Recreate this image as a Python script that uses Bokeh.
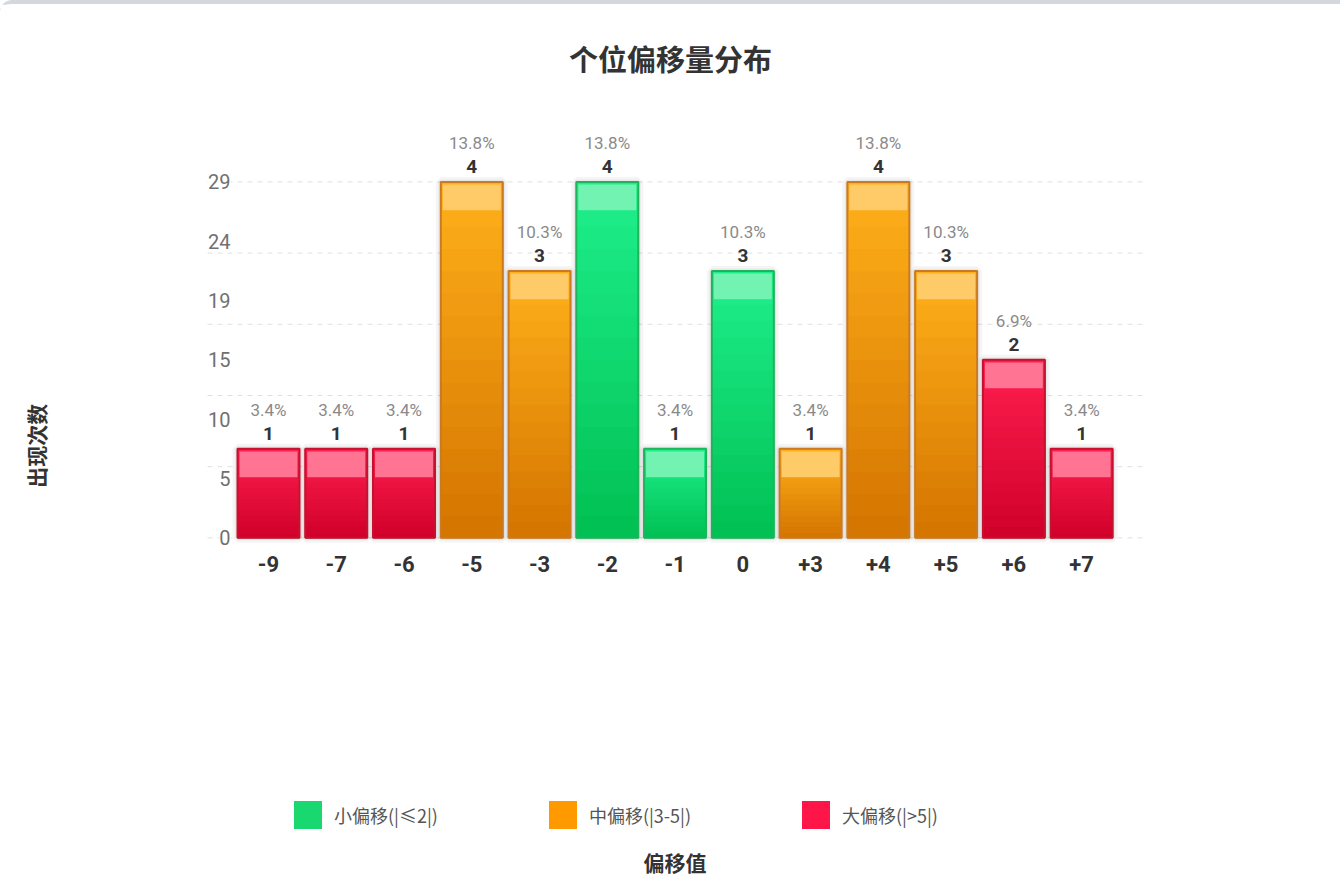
import numpy as np
from bokeh.core.properties import value
from bokeh.embed import file_html
from bokeh.models import (ColumnDataSource, Range1d, FixedTicker, LinearAxis,
                          Legend, LegendItem)
from bokeh.plotting import figure
from bokeh.resources import INLINE

# data
offsets = ["-9", "-7", "-6", "-5", "-3", "-2", "-1", "0", "+3", "+4", "+5", "+6", "+7"]
counts = [1, 1, 1, 4, 3, 4, 1, 3, 1, 4, 3, 2, 1]
y_tick_labels = ["0", "5", "10", "15", "19", "24", "29"]
group_names = ["小偏移(|≤2|)", "中偏移(|3-5|)", "大偏移(|>5|)"]

total = sum(counts)
peak = max(counts)
idx = list(range(len(offsets)))

# per group: gradient top, gradient bottom, highlight, border, legend swatch
styles = {
    0: ("#1ff08c", "#00bf52", "#72f3b2", "#1fb35c", "#19d870"),
    1: ("#ffb01a", "#d47400", "#ffcb68", "#c97a22", "#ff9900"),
    2: ("#ff1f50", "#cf0029", "#ff7393", "#c4122f", "#ff1648"),
}


def group_of(name):
    d = abs(int(name))
    if d <= 2:
        return 0
    if d <= 5:
        return 1
    return 2


def mix(c1, c2, t):
    a = np.array([int(c1[i:i + 2], 16) for i in (1, 3, 5)])
    b = np.array([int(c2[i:i + 2], 16) for i in (1, 3, 5)])
    r = np.round(a + (b - a) * t).astype(int)
    return "#%02x%02x%02x" % tuple(r)


BAR_W = 0.915
SLICES = 16
cjk = "Noto Sans CJK SC"

# gradient slices for each bar
sx, sb, st, sc = [], [], [], []
hb, ht, hc, bcol = [], [], [], []
for i, name, c in zip(idx, offsets, counts):
    top_c, bot_c, hi_c, edge_c, _ = styles[group_of(name)]
    for k in range(SLICES):
        sx.append(i)
        sb.append(c * k / SLICES)
        st.append(c * (k + 1) / SLICES)
        sc.append(mix(bot_c, top_c, (k + 0.5) / SLICES))
    hb.append(c - 0.32)
    ht.append(c - 0.03)
    hc.append(hi_c)
    bcol.append(edge_c)

slices = ColumnDataSource(dict(x=sx, bottom=sb, top=st, color=sc))
bars = ColumnDataSource(dict(x=idx, top=counts, hb=hb, ht=ht, hc=hc, edge=bcol,
                             pct=["%.1f%%" % (c / total * 100) for c in counts],
                             cnt=[str(c) for c in counts]))

# the frame runs down to the page foot; the category axis sits at zero
p = figure(width=1340, height=878, output_backend="svg", toolbar_location=None,
           x_range=Range1d(-3.955, 15.82), y_range=Range1d(-3.873, 4.6),
           min_border_left=0, min_border_right=0, min_border_top=124,
           min_border_bottom=0)
p.styles = {"border-top": "4px solid #d4d7dc", "border-top-left-radius": "12px"}
p.outline_line_color = None
p.background_fill_color = "white"
p.border_fill_color = "white"
p.grid.grid_line_color = None

# dashed value grid, a fifth of the peak apart
pad = 0.4
grid_ticks = list(np.linspace(0, peak, 6))
p.segment(x0=-0.5 - pad, x1=len(idx) - 0.5 + pad, y0=grid_ticks, y1=grid_ticks,
          line_color="#e0e0e0", line_width=1, line_dash="5 5")

# soft shadow
p.vbar(x="x", top="top", bottom=0, width=BAR_W, source=bars, fill_color=None,
       line_color="#000000", line_alpha=0.04, line_width=10)
p.vbar(x="x", top="top", bottom=0, width=BAR_W, source=bars, fill_color=None,
       line_color="#000000", line_alpha=0.05, line_width=5)

# flat base bar per group (also feeds the legend), gradient on top
items = []
for g, label in enumerate(group_names):
    gx = [i for i, n in zip(idx, offsets) if group_of(n) == g]
    gt = [c for c, n in zip(counts, offsets) if group_of(n) == g]
    r = p.vbar(x=gx, top=gt, bottom=0, width=BAR_W, fill_color=styles[g][4],
               line_color=None)
    items.append(LegendItem(label=label, renderers=[r]))

p.vbar(x="x", top="top", bottom="bottom", width=BAR_W, source=slices,
       fill_color="color", line_color="color", line_width=1)
p.vbar(x="x", top="ht", bottom="hb", width=BAR_W - 0.06, source=bars,
       fill_color="hc", line_color=None)
p.vbar(x="x", top="top", bottom=0, width=BAR_W, source=bars, fill_color=None,
       line_color="edge", line_width=2)

# labels above bars
p.text(x="x", y="top", text="pct", source=bars, y_offset=-39,
       text_align="center", text_baseline="middle", text_font=value("Roboto"),
       text_font_size="17px", text_color="#8a8a8a")
p.text(x="x", y="top", text="cnt", source=bars, y_offset=-15,
       text_align="center", text_baseline="middle", text_font=value("Roboto"),
       text_font_size="19px", text_font_style="bold", text_color="#333333")

# value labels: seven steps up to the total
label_ticks = list(np.linspace(0, peak, len(y_tick_labels)))
p.yaxis.visible = False
p.text(x=[idx[0]] * len(label_ticks), y=label_ticks, text=y_tick_labels,
       x_offset=-38, text_align="right", text_baseline="middle",
       text_font=value("Roboto"), text_font_size="20px", text_color="#707070",
       background_fill_color="white")
p.text(x=[idx[0]], y=[0], text=["出现次数"], x_offset=-233, y_offset=-92,
       angle=np.pi / 2, text_align="center", text_baseline="middle",
       text_font=value(cjk), text_font_size="21px", text_font_style="bold",
       text_color="#333333")
p.text(x=[(len(idx) - 1) / 2], y=[0], text=["偏移值"], y_offset=324,
       text_align="center", text_baseline="middle",
       text_font=value(cjk), text_font_size="21px", text_font_style="bold",
       text_color="#333333")

xa = p.xaxis[0]
xa.fixed_location = 0
xa.ticker = FixedTicker(ticks=idx)
xa.major_label_overrides = {i: s for i, s in zip(idx, offsets)}
xa.axis_line_color = None
xa.major_tick_line_color = None
xa.minor_tick_line_color = None
xa.major_tick_out = 0
xa.major_label_standoff = 18
xa.major_label_text_font = "Roboto"
xa.major_label_text_font_size = "22px"
xa.major_label_text_font_style = "bold"
xa.major_label_text_color = "#333333"

legend = Legend(items=items, location=(290, 50), orientation="horizontal",
                glyph_width=35, glyph_height=35, label_standoff=9, spacing=107,
                padding=0, margin=0, border_line_color=None,
                background_fill_alpha=0, label_text_font=cjk,
                label_text_font_size="18px", label_text_color="#555555")
p.add_layout(legend, "center")

title_axis = LinearAxis(ticker=FixedTicker(ticks=[]), axis_label="个位偏移量分布",
                        axis_label_standoff=50, axis_line_color=None,
                        major_tick_out=0, major_tick_in=0, minor_tick_out=0,
                        minor_tick_in=0)
title_axis.axis_label_text_font = cjk
title_axis.axis_label_text_font_size = "29px"
title_axis.axis_label_text_font_style = "bold"
title_axis.axis_label_text_color = "#333333"
p.add_layout(title_axis, "above")

open("out.html", "w").write(file_html(p, INLINE))
